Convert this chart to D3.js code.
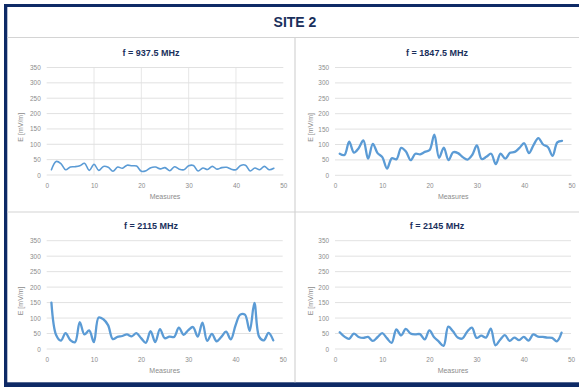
<!DOCTYPE html>
<html>
<head>
<meta charset="utf-8">
<script src="https://cdn.jsdelivr.net/npm/d3@7"></script>
<style>
  html, body { margin: 0; padding: 0; background: #fff; }
  svg { display: block; }
</style>
</head>
<body>
<svg id="chart" width="579" height="387"></svg>
<script>
// Field strength measurements at site 2, one series per frequency (48 measures each)
const pageTitle = "SITE 2";
const frequencies = ["f = 937.5 MHz", "f = 1847.5 MHz", "f = 2115 MHz", "f = 2145 MHz"];
const measures = d3.range(1, 49);

const e937 = [17, 44, 37, 17, 26, 27, 30, 38, 15, 35, 15, 28, 25, 12, 26, 22, 32, 30, 29, 12,
              14, 24, 26, 20, 24, 14, 27, 19, 17, 30, 31, 13, 23, 18, 28, 19, 24, 25, 19, 17,
              31, 32, 13, 23, 17, 28, 17, 22];
const e1847 = [70, 66, 109, 74, 88, 113, 54, 102, 72, 59, 22, 55, 52, 89, 77, 49, 70, 68, 76, 82,
               132, 57, 90, 49, 75, 72, 59, 51, 66, 97, 53, 60, 70, 36, 70, 54, 73, 76, 89, 104,
               72, 99, 121, 100, 92, 63, 107, 112];
const e2115 = [150, 45, 27, 51, 29, 22, 87, 47, 60, 22, 102, 96, 77, 32, 39, 42, 47, 41, 51, 35,
               20, 58, 22, 64, 35, 40, 39, 69, 46, 61, 71, 40, 85, 26, 49, 25, 39, 56, 31, 76,
               111, 111, 59, 149, 40, 28, 52, 28];
const e2145 = [54, 40, 33, 50, 39, 36, 39, 26, 38, 51, 35, 20, 63, 44, 65, 50, 47, 48, 31, 60,
               38, 24, 10, 72, 57, 37, 34, 56, 69, 36, 43, 37, 66, 12, 30, 45, 26, 37, 29, 39,
               27, 47, 40, 39, 37, 36, 25, 53];

const xTicks = [0, 10, 20, 30, 40, 50];
const yTicks = [0, 50, 100, 150, 200, 250, 300, 350];
const xTitle = "Measures";
const yTitle = "E [mV/m]";

const series = [e937, e1847, e2115, e2145];

// Panel layout: cell box and plot area for each small multiple
const panels = [
  { cx: 151, titleY: 55.5, left: 46.7, right: 283.3, top: 67.5,  bottom: 175,   axisX: 20.5, vgrid: true,  lw: 1.6 },
  { cx: 437, titleY: 55.5, left: 335,  right: 571.5, top: 67.5,  bottom: 175.3, axisX: 310,  vgrid: false, lw: 2.3 },
  { cx: 151, titleY: 228.5, left: 46.7, right: 282.7, top: 240.7, bottom: 349,  axisX: 20.5, vgrid: false, lw: 2.3 },
  { cx: 437, titleY: 228.5, left: 335,  right: 571,   top: 240.7, bottom: 349,  axisX: 310,  vgrid: false, lw: 2.3 }
];

const svg = d3.select("#chart");
const navy = "#0e2a66";
const titleColor = "#1a2f5c";
const gridColor = "#d9d9d9";
const textGray = "#8c8c8c";
const lineColor = "#5b9bd5";
const font = "'Liberation Sans', Arial, sans-serif";

// Frame: navy border on top, left and bottom, light dividers between cells
svg.append("rect").attr("x", 4).attr("y", 4).attr("width", 575).attr("height", 3).attr("fill", navy);
svg.append("rect").attr("x", 4).attr("y", 4).attr("width", 3.3).attr("height", 383).attr("fill", navy);
svg.append("rect").attr("x", 4).attr("y", 382.3).attr("width", 575).attr("height", 5).attr("fill", navy);

const dividers = [
  [7.3, 37.5, 579, 37.5],
  [295, 37.5, 295, 382.3],
  [7.3, 212, 579, 212]
];
svg.selectAll("line.divider").data(dividers).join("line")
  .attr("class", "divider")
  .attr("x1", d => d[0]).attr("y1", d => d[1])
  .attr("x2", d => d[2]).attr("y2", d => d[3])
  .attr("stroke", "#d4d4d4").attr("stroke-width", 1.2);

svg.append("text")
  .attr("x", 295).attr("y", 27)
  .attr("text-anchor", "middle")
  .attr("font-family", font).attr("font-weight", "bold").attr("font-size", 14)
  .attr("fill", titleColor)
  .text(pageTitle);

panels.forEach((p, i) => {
  const g = svg.append("g");
  const x = d3.scaleLinear().domain([0, 50]).range([p.left, p.right]);
  const y = d3.scaleLinear().domain([0, 350]).range([p.bottom, p.top]);

  // horizontal gridlines
  g.selectAll("line.hgrid").data(yTicks).join("line")
    .attr("x1", p.left).attr("x2", p.right)
    .attr("y1", d => y(d)).attr("y2", d => y(d))
    .attr("stroke", gridColor).attr("stroke-width", 0.8);

  if (p.vgrid) {
    g.selectAll("line.vgrid").data(xTicks.slice(1, -1)).join("line")
      .attr("x1", d => x(d)).attr("x2", d => x(d))
      .attr("y1", p.top).attr("y2", p.bottom)
      .attr("stroke", "#e0e0e0").attr("stroke-width", 0.8);
  }

  // y axis labels
  const ya = d3.axisLeft(y).tickValues(yTicks).tickSize(0).tickPadding(6);
  const yg = g.append("g").attr("transform", `translate(${p.left},0)`).call(ya);
  yg.select(".domain").remove();
  yg.selectAll("text").attr("font-family", font).attr("font-size", 6.4).attr("fill", textGray);

  // x axis labels
  const xa = d3.axisBottom(x).tickValues(xTicks).tickSize(0).tickPadding(8);
  const xg = g.append("g").attr("transform", `translate(0,${p.bottom})`).call(xa);
  xg.select(".domain").remove();
  xg.selectAll("text").attr("font-family", font).attr("font-size", 6.4).attr("fill", textGray);

  // titles
  g.append("text")
    .attr("x", p.cx).attr("y", p.titleY)
    .attr("text-anchor", "middle")
    .attr("font-family", font).attr("font-weight", "bold").attr("font-size", 9)
    .attr("fill", titleColor)
    .text(frequencies[i]);

  g.append("text")
    .attr("x", (p.left + p.right) / 2).attr("y", p.bottom + 24)
    .attr("text-anchor", "middle")
    .attr("font-family", font).attr("font-size", 7)
    .attr("fill", textGray)
    .text(xTitle);

  g.append("text")
    .attr("transform", `translate(${p.axisX + 2.5},${(p.top + p.bottom) / 2 + 6}) rotate(-90)`)
    .attr("text-anchor", "middle")
    .attr("font-family", font).attr("font-size", 7)
    .attr("fill", textGray)
    .text(yTitle);

  // smoothed measurement line
  const line = d3.line()
    .x((d, k) => x(measures[k]))
    .y(d => y(d))
    .curve(d3.curveCatmullRom.alpha(0.5));

  g.append("path")
    .datum(series[i])
    .attr("d", line)
    .attr("fill", "none")
    .attr("stroke", lineColor)
    .attr("stroke-width", p.lw)
    .attr("stroke-linejoin", "round")
    .attr("stroke-linecap", "round");
});
</script>
</body>
</html>
